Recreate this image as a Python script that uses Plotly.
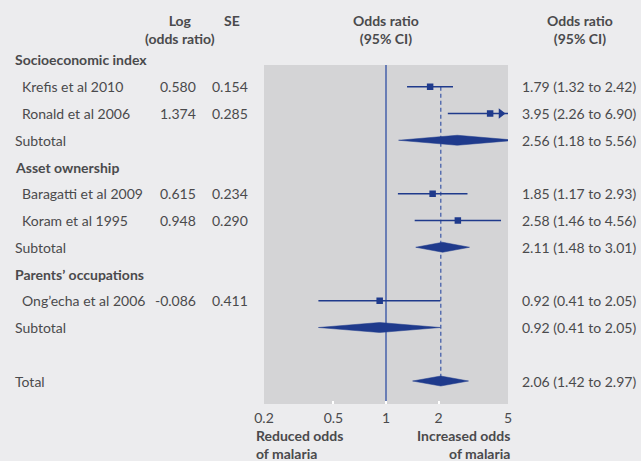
import math
import plotly.graph_objects as go

# ---------------- data ----------------
groups = ["Socioeconomic index", "Asset ownership", "Parents’ occupations"]
studies = ["Krefis et al 2010", "Ronald et al 2006", "Baragatti et al 2009",
           "Koram et al 1995", "Ong’echa et al 2006"]
study_group = [0, 0, 1, 1, 2]
log_or = ["0.580", "1.374", "0.615", "0.948", "-0.086"]
se = ["0.154", "0.285", "0.234", "0.290", "0.411"]
or_est = [1.79, 3.95, 1.85, 2.58, 0.92]
ci_lo = [1.32, 2.26, 1.17, 1.46, 0.41]
ci_hi = [2.42, 6.90, 2.93, 4.56, 2.05]
sub_est = [2.56, 2.11, 0.92]
sub_lo = [1.18, 1.48, 0.41]
sub_hi = [5.56, 3.01, 2.05]
total_est, total_lo, total_hi = 2.06, 1.42, 2.97
tick_vals = [0.2, 0.5, 1, 2, 5]
tick_text = ["0.2", "0.5", "1", "2", "5"]

# ---------------- style / layout ----------------
W, H = 641, 461
PL, PR, PT, PB = 264, 508, 65, 404      # plot area in pixels
ROW0, PITCH = 60, 26.75                  # pixel y of row 0 and row pitch
BG = "#ececee"
PLOT_BG = "#d4d4d6"
TXT = "#4a4a4c"
NAVY = "#1f3a8c"
LINE1 = "#4660aa"
FONT = "Lato"
FS = 14

xmin, xmax = 0.2, 5


def ypix_to_row(p):
    return (p - ROW0) / PITCH


def row_to_paper(r):
    p = ROW0 + PITCH * r
    return 1 - (p - PT) / (PB - PT)


def px_to_paper_x(px):
    return (px - PL) / (PR - PL)


# build row layout
rows_study = []
rows_sub = []
rows_group = []
r = 0
for g in range(len(groups)):
    rows_group.append(r)
    r += 1
    for i, sg in enumerate(study_group):
        if sg == g:
            rows_study.append(r)
            r += 1
    rows_sub.append(r)
    r += 1
row_total = r + 1

fig = go.Figure()

# CI lines
lx, ly = [], []
for i in range(len(studies)):
    lx += [ci_lo[i], ci_hi[i], None]
    ly += [rows_study[i], rows_study[i], None]
fig.add_trace(go.Scatter(x=lx, y=ly, mode="lines",
                         line=dict(color=NAVY, width=1.6),
                         hoverinfo="skip", showlegend=False))

# arrows for CIs beyond the axis
ax_x, ax_y = [], []
log_span = math.log10(xmax) - math.log10(xmin)
for i in range(len(studies)):
    if ci_hi[i] > xmax:
        ax_x.append(10 ** (math.log10(xmax) - 7 * log_span / (PR - PL)))
        ax_y.append(rows_study[i])
fig.add_trace(go.Scatter(x=ax_x, y=ax_y, mode="markers",
                         marker=dict(symbol="triangle-right", size=9, color=NAVY,
                                     line=dict(width=0)),
                         hoverinfo="skip", showlegend=False))

# study squares
fig.add_trace(go.Scatter(x=or_est, y=rows_study, mode="markers",
                         marker=dict(symbol="square", size=6.5, color=NAVY,
                                     line=dict(width=0)),
                         hoverinfo="skip", showlegend=False))

# diamonds
half_h = 5 / PITCH
for est, lo, hi, rr in list(zip(sub_est, sub_lo, sub_hi, rows_sub)) + \
        [(total_est, total_lo, total_hi, row_total)]:
    fig.add_trace(go.Scatter(x=[lo, est, hi, est, lo],
                             y=[rr, rr - half_h, rr, rr + half_h, rr],
                             mode="lines", fill="toself", fillcolor=NAVY,
                             line=dict(color=NAVY, width=0.5),
                             hoverinfo="skip", showlegend=False))

shapes = [
    dict(type="line", xref="x", yref="paper", x0=1, x1=1, y0=0, y1=1,
         line=dict(color=LINE1, width=1.5), layer="below"),
    dict(type="line", xref="x", yref="y", x0=total_est, x1=total_est,
         y0=rows_study[0], y1=row_total,
         line=dict(color=LINE1, width=1.3, dash="4px,3px"), layer="below"),
]

ann = []


def txt(text, xpx, row=None, ypx=None, anchor="left", bold=False, align=None):
    yp = row_to_paper(row) if row is not None else row_to_paper(ypix_to_row(ypx))
    ann.append(dict(text=f"<b>{text}</b>" if bold else text,
                    x=px_to_paper_x(xpx), y=yp, xref="paper", yref="paper",
                    xanchor=anchor, yanchor="middle", showarrow=False,
                    align=align or anchor,
                    font=dict(family=FONT, size=FS, color=TXT)))


# headers
txt("Log<br>(odds ratio)", 180, ypx=29, anchor="center", bold=True)
txt("SE", 232, ypx=20, anchor="center", bold=True)
txt("Odds ratio<br>(95% CI)", 386, ypx=29, anchor="center", bold=True)
txt("Odds ratio<br>(95% CI)", 580, ypx=29, anchor="center", bold=True)


def ci_text(e, lo, hi):
    return f"{e:.2f} ({lo:.2f} to {hi:.2f})"


for g in range(len(groups)):
    txt(groups[g], 13, row=rows_group[g], bold=True)
    txt("Subtotal", 13, row=rows_sub[g])
    txt(ci_text(sub_est[g], sub_lo[g], sub_hi[g]), 520, row=rows_sub[g])
for i in range(len(studies)):
    txt(studies[i], 20, row=rows_study[i])
    txt(log_or[i], 198, row=rows_study[i], anchor="right")
    txt(se[i], 250, row=rows_study[i], anchor="right")
    txt(ci_text(or_est[i], ci_lo[i], ci_hi[i]), 520, row=rows_study[i])
txt("Total", 13, row=row_total)
txt(ci_text(total_est, total_lo, total_hi), 520, row=row_total)

# bottom labels
txt("Reduced odds<br>of malaria", 254, ypx=444, anchor="left", bold=True)
txt("Increased odds<br>of malaria", 512, ypx=444, anchor="right", bold=True)

fig.update_layout(
    width=W, height=H,
    margin=dict(l=PL, r=W - PR, t=PT, b=H - PB, pad=0),
    paper_bgcolor=BG, plot_bgcolor=PLOT_BG,
    font=dict(family=FONT, size=FS, color=TXT),
    shapes=shapes, annotations=ann, showlegend=False,
    xaxis=dict(type="log", range=[math.log10(xmin), math.log10(xmax)],
               tickvals=tick_vals, ticktext=tick_text,
               ticks="inside", ticklen=3, tickwidth=1.5, tickcolor="white",
               ticklabelstandoff=4,
               showgrid=False, zeroline=False, showline=False,
               tickfont=dict(family=FONT, size=FS, color=TXT), fixedrange=True),
    yaxis=dict(range=[ypix_to_row(PB), ypix_to_row(PT)],
               visible=False, fixedrange=True),
)

fig.write_html("out.html", config=dict(displayModeBar=False),
               post_script="document.body.style.margin='0';"
                           "document.body.style.overflow='hidden';")
